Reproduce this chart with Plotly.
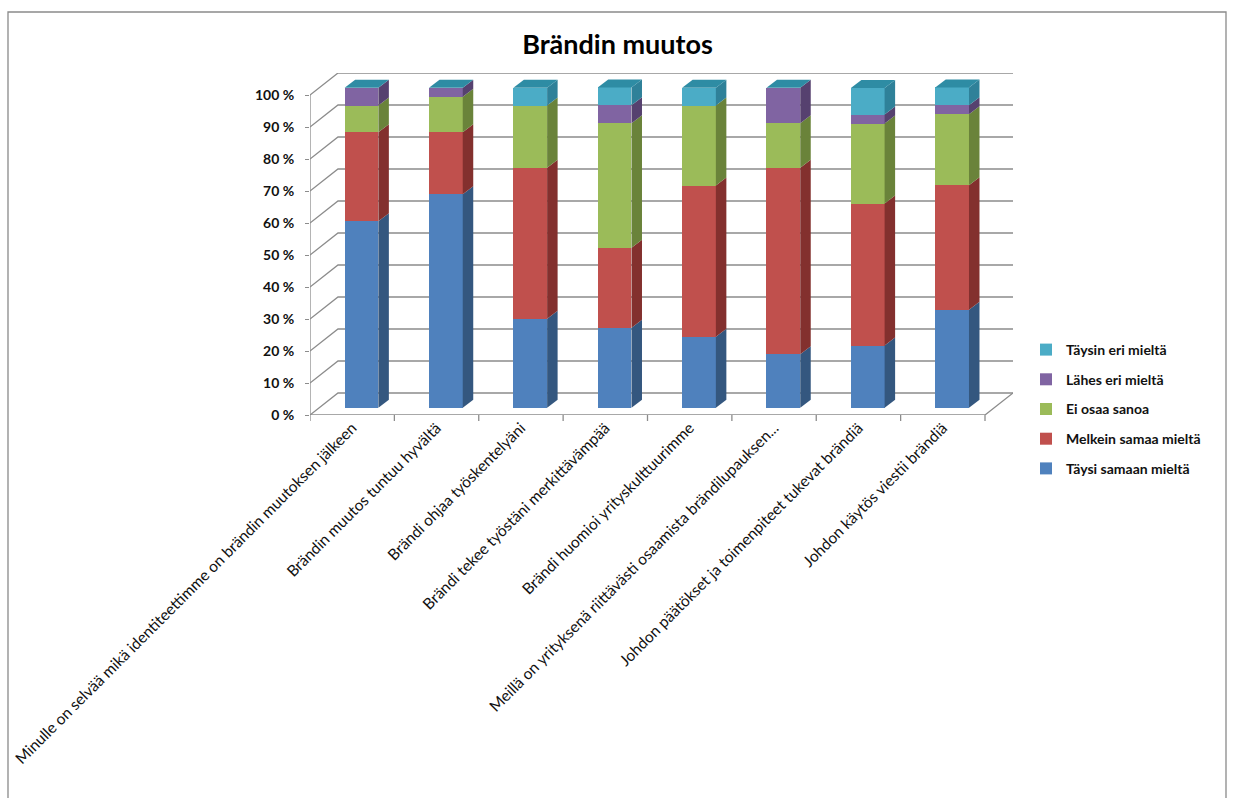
import plotly.graph_objects as go

# ---- data (percent of respondents) ----
categories = [
    "Minulle on selvää mikä identiteettimme on brändin muutoksen jälkeen",
    "Brändin muutos tuntuu hyvältä",
    "Brändi ohjaa työskentelyäni",
    "Brändi tekee työstäni merkittävämpää",
    "Brändi huomioi yrityskulttuurimme",
    "Meillä on yrityksenä riittävästi osaamista brändilupauksen...",
    "Johdon päätökset ja toimenpiteet tukevat brändiä",
    "Johdon käytös viestii brändiä",
]
series_names = [
    "Täysi samaan mieltä",
    "Melkein samaa mieltä",
    "Ei osaa sanoa",
    "Lähes eri mieltä",
    "Täysin eri mieltä",
]
taysi_samaan = [58.3, 66.7, 27.8, 25.0, 22.2, 16.7, 19.4, 30.6]
melkein_samaa = [27.8, 19.4, 47.2, 25.0, 47.2, 58.3, 44.4, 38.9]
ei_osaa_sanoa = [8.3, 11.1, 19.4, 38.9, 25.0, 13.9, 25.0, 22.2]
lahes_eri = [5.6, 2.8, 0.0, 5.6, 0.0, 11.1, 2.8, 2.8]
taysin_eri = [0.0, 0.0, 5.6, 5.6, 5.6, 0.0, 8.3, 5.6]
y_ticks = [0, 10, 20, 30, 40, 50, 60, 70, 80, 90, 100]

series_values = [taysi_samaan, melkein_samaa, ei_osaa_sanoa, lahes_eri, taysin_eri]
front_colors = ["#4F81BD", "#C0504D", "#9BBB59", "#8064A2", "#4BACC6"]
side_colors = ["#34577F", "#83302E", "#6A833A", "#56416F", "#2F8199"]
top_color = "#2E8CA4"
grid_color = "#8C8C8C"

# ---- page geometry (pixels) ----
FIG_W, FIG_H = 1235, 798
BOX_L, BOX_R, BOX_T, BOX_B = 310, 1013, 73, 415   # box holding the 3D scene
PX_CAT = 84.375        # pixels per category on the front plane
PX_PCT = 3.2           # pixels per percent
WALL_DX, WALL_DY = 28, 22     # depth of floor / walls
BAR_DX, BAR_DY = 9.3, 7.3     # plane of the bar fronts behind the front edge
DEPTH_DX, DEPTH_DY = 10.5, 8  # depth of each bar
BAR_W = 0.4

box_w = BOX_R - BOX_L
box_h = BOX_B - BOX_T
n = len(categories)
k = len(series_names)

front_xr = [-0.5, -0.5 + box_w / PX_CAT]
front_yr = [0, box_h / PX_PCT]
bar_xr = [front_xr[0] - BAR_DX / PX_CAT, front_xr[1] - BAR_DX / PX_CAT]
bar_yr = [front_yr[0] - BAR_DY / PX_PCT, front_yr[1] - BAR_DY / PX_PCT]

wx = WALL_DX / PX_CAT
wy = WALL_DY / PX_PCT
dx = DEPTH_DX / PX_CAT
dy = DEPTH_DY / PX_PCT

fig = go.Figure()

# stacked bar fronts; legend lists the top segment first
for idx, (name, vals, col) in enumerate(zip(series_names, series_values, front_colors)):
    fig.add_trace(go.Bar(
        x=list(range(n)), y=vals, name=f"<b>{name}</b>",
        marker=dict(color=col, line=dict(width=0)),
        width=BAR_W, xaxis="x2", yaxis="y2",
        legendgroup=name, legendrank=k - idx,
    ))

shapes = []

# walls: left-wall diagonals + back-wall gridlines
for v in y_ticks:
    shapes.append(dict(
        type="path", xref="x", yref="y", layer="below",
        path=f"M {-0.5} {v} L {-0.5 + wx} {v + wy} L {n - 0.5 + wx} {v + wy}",
        line=dict(color=grid_color, width=1.3),
    ))
# vertical axis line and floor edges
shapes.append(dict(type="line", xref="x", yref="y", layer="below",
                   x0=-0.5, y0=0, x1=-0.5, y1=100,
                   line=dict(color=grid_color, width=1.3)))
shapes.append(dict(type="path", xref="x", yref="y", layer="below",
                   path=f"M {-0.5} 0 L {n - 0.5} 0 L {n - 0.5 + wx} {wy}",
                   line=dict(color=grid_color, width=1.3)))

# side and top faces of the stacked columns
for i in range(n):
    base = 0.0
    xr = i + BAR_W / 2
    xl = i - BAR_W / 2
    for vals, scol in zip(series_values, side_colors):
        v = vals[i]
        if v > 0:
            y0, y1 = base, base + v
            shapes.append(dict(
                type="path", xref="x2", yref="y2", layer="above",
                path=(f"M {xr} {y0} L {xr + dx} {y0 + dy} "
                      f"L {xr + dx} {y1 + dy} L {xr} {y1} Z"),
                fillcolor=scol, line=dict(width=0),
            ))
        base += v
    shapes.append(dict(
        type="path", xref="x2", yref="y2", layer="above",
        path=(f"M {xl} {base} L {xl + dx} {base + dy} "
              f"L {xr + dx} {base + dy} L {xr} {base} Z"),
        fillcolor=top_color, line=dict(width=0),
    ))

# outer chart border
def px_to_paper_x(px):
    return (px - BOX_L) / box_w

def px_to_paper_y(py):
    return (BOX_B - py) / box_h

shapes.append(dict(
    type="rect", xref="paper", yref="paper", layer="below",
    x0=px_to_paper_x(8), x1=px_to_paper_x(1226),
    y0=px_to_paper_y(805), y1=px_to_paper_y(12),
    line=dict(color="#8A8A8A", width=1.3), fillcolor="rgba(0,0,0,0)",
))

fig.update_layout(
    width=FIG_W, height=FIG_H,
    margin=dict(l=BOX_L, r=FIG_W - BOX_R, t=BOX_T, b=FIG_H - BOX_B, autoexpand=False),
    paper_bgcolor="white", plot_bgcolor="rgba(0,0,0,0)",
    barmode="stack", bargap=0.6,
    showlegend=True,
    font=dict(family="Lato, Open Sans, sans-serif", color="#000000"),
    title=dict(
        text="<b>Brändin muutos</b>", x=0.5, xanchor="center",
        y=1 - 45 / FIG_H, yanchor="middle", yref="container",
        font=dict(size=27, family="Lato, Open Sans, sans-serif", color="#000000"),
    ),
    xaxis=dict(
        type="linear", range=front_xr, tickmode="array",
        tickvals=list(range(n)), ticktext=categories,
        tickangle=-45, showgrid=False, zeroline=False, showline=False,
        ticks="", tickfont=dict(size=15.5, color="#111111"),
    ),
    yaxis=dict(
        range=front_yr, tickmode="array", tickvals=y_ticks,
        ticktext=[f"<b>{t} %</b>" for t in y_ticks],
        showgrid=False, zeroline=False, showline=False,
        ticks="outside", ticklen=4, tickcolor=grid_color, tickwidth=1.3,
        ticklabelstandoff=8,
        tickfont=dict(size=14, color="#111111"),
    ),
    xaxis2=dict(range=bar_xr, overlaying="x", anchor="y2", visible=False),
    yaxis2=dict(range=bar_yr, overlaying="y", anchor="x2", visible=False),
    legend=dict(
        x=px_to_paper_x(1026), y=px_to_paper_y(334),
        xanchor="left", yanchor="top", traceorder="grouped",
        tracegroupgap=8.5, font=dict(size=14, color="#111111"),
        bgcolor="rgba(0,0,0,0)",
    ),
    shapes=shapes,
)

# category tick marks along the floor front edge
for b in range(n + 1):
    fig.add_shape(type="line", xref="x", yref="paper", layer="below",
                  x0=b - 0.5, x1=b - 0.5,
                  y0=px_to_paper_y(BOX_B), y1=px_to_paper_y(BOX_B + 6),
                  line=dict(color=grid_color, width=1.3))

fig.write_html("out.html")
